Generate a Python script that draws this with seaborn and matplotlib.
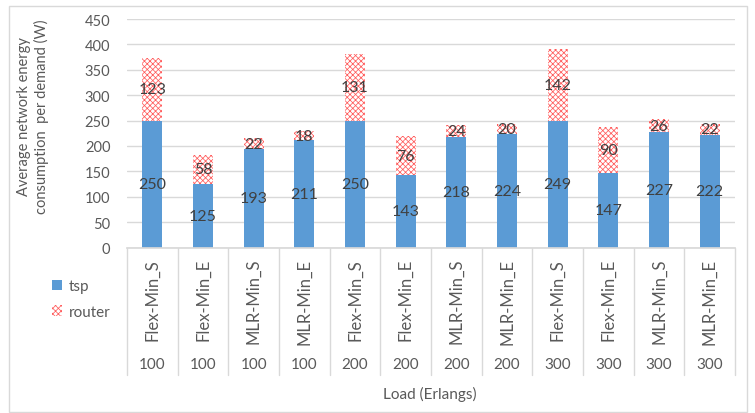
import numpy as np
import pandas as pd
import matplotlib
matplotlib.use("Agg")
import matplotlib.pyplot as plt
import matplotlib.transforms as mtransforms
from matplotlib.patches import Patch
import seaborn as sns

# Data
methods = ["Flex-Min_S", "Flex-Min_E", "MLR-Min_S", "MLR-Min_E"] * 3
loads = ["100"] * 4 + ["200"] * 4 + ["300"] * 4
tsp = [250, 125, 193, 211, 250, 143, 218, 224, 249, 147, 227, 222]
router = [123, 58, 22, 18, 131, 76, 24, 20, 142, 90, 26, 22]

sns.set_theme(style="white")
plt.rcParams["font.family"] = ["Lato", "DejaVu Sans"]
plt.rcParams["hatch.linewidth"] = 0.55
plt.rcParams["hatch.color"] = "#ff5c5c"

BLUE = "#5b9bd5"
HATCH_RED = "#ff5c5c"
GRID = "#d9d9d9"
TXT = "#595959"
LBL = "#404040"
HATCH = "xxxxxx"

df = pd.DataFrame({
    "tsp": tsp,
    "router": router,
})
df["total"] = df["tsp"] + df["router"]
df["idx"] = [str(i) for i in range(len(df))]

fig = plt.figure(figsize=(7.55, 4.14), dpi=100)
W, H = 755, 414
x0, x1, ytop, ybot = 127, 735, 20, 248.5
ax = fig.add_axes([x0 / W, (H - ybot) / H, (x1 - x0) / W, (ybot - ytop) / H])

# stacked bars: total (router, hatched) underneath, tsp on top of it
sns.barplot(data=df, x="idx", y="total", ax=ax, color="white", width=0.4,
            edgecolor=HATCH_RED, linewidth=0, hatch=HATCH, saturation=1)
sns.barplot(data=df, x="idx", y="tsp", ax=ax, color=BLUE, width=0.4,
            linewidth=0, saturation=1)

ax.set_ylim(0, 450)
ax.set_xlim(-0.5, len(df) - 0.5)
ax.set_yticks(np.arange(0, 451, 50))
ax.yaxis.grid(True, color=GRID, linewidth=1)
ax.set_axisbelow(True)
for s in ["top", "right", "left"]:
    ax.spines[s].set_visible(False)
ax.spines["bottom"].set_color(GRID)
ax.tick_params(axis="y", length=0, labelsize=10.5, colors=TXT, pad=12)
ax.set_xticks([])
ax.set_xlabel("")
ax.set_ylabel("")

# value labels
for i, (t, r) in enumerate(zip(tsp, router)):
    ax.text(i, t / 2, str(t), ha="center", va="center", fontsize=11.5, color=LBL)
    ax.text(i, t + r / 2, str(r), ha="center", va="center", fontsize=11.5, color=LBL)

# category table below the axis
trans = mtransforms.blended_transform_factory(ax.transData, ax.transAxes)
ah = ybot - ytop
table_bottom = -(376 - ybot) / ah
for i in range(len(df) + 1):
    ax.plot([i - 0.5, i - 0.5], [0, table_bottom], transform=trans,
            color=GRID, linewidth=1, clip_on=False)
for i, (m, l) in enumerate(zip(methods, loads)):
    ax.text(i, -(259 - ybot) / ah, m, transform=trans, rotation=90,
            ha="center", va="top", fontsize=12, color=TXT)
    ax.text(i, -(365 - ybot) / ah, l, transform=trans,
            ha="center", va="center", fontsize=11, color=TXT)

fig.text(430 / W, 1 - 394 / H, "Load (Erlangs)", ha="center", va="center",
         fontsize=11, color=TXT)
fig.text(33 / W, 1 - 117 / H, "Average network energy\nconsumption  per demand (W)",
         rotation=90, ha="center", va="center", fontsize=10.5, color=TXT,
         linespacing=1.25)

# legend
handles = [Patch(facecolor=BLUE, edgecolor=BLUE, linewidth=0, label="tsp"),
           Patch(facecolor="white", edgecolor=HATCH_RED, linewidth=0,
                 hatch=HATCH, label="router")]
leg = fig.legend(handles=handles, loc="center left",
                 bbox_to_anchor=(38 / W, 1 - 300 / H), frameon=False,
                 handlelength=0.7, handleheight=0.7, handletextpad=0.4,
                 labelspacing=0.75, fontsize=11)
for t in leg.get_texts():
    t.set_color(TXT)

# chart border
fig.add_artist(plt.Rectangle((9 / W, 1 / H), (747 - 9) / W, (410 - 4) / H,
                             transform=fig.transFigure, fill=False,
                             edgecolor=GRID, linewidth=1))

fig.savefig("out.png", dpi=100)
